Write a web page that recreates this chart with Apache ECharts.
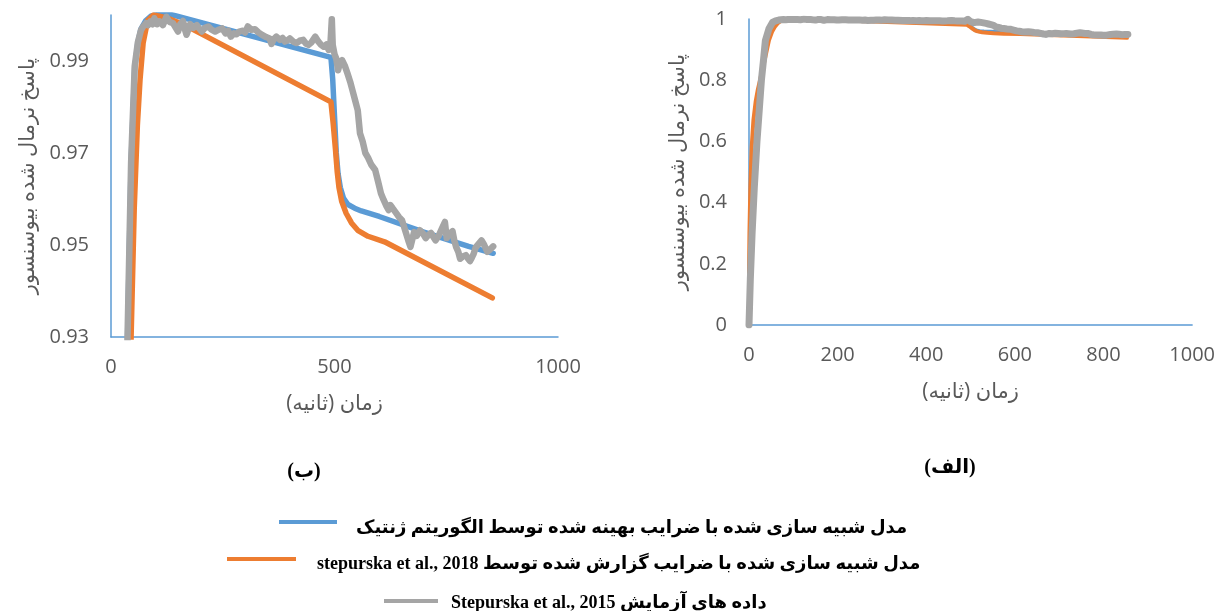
<!DOCTYPE html>
<html>
<head>
<meta charset="utf-8">
<script src="https://cdn.jsdelivr.net/npm/echarts@6/dist/echarts.min.js"></script>
<style>
  html, body { margin: 0; padding: 0; background: #ffffff; }
  #chart { width: 1218px; height: 611px; }
</style>
</head>
<body>
<div id="chart"></div>
<script>
// Wrap right-to-left strings so the canvas lays them out as an RTL run.
const rtl = s => '\u202B' + s + '\u202C';

// ---- data: [time (s), normalised biosensor response] ----
// model with GA-optimised coefficients
const gaModel = [
  [0, 0], [3, 0.12], [7, 0.28], [12, 0.44], [18, 0.6], [24, 0.72], [28, 0.8], [33, 0.87], [37, 0.93],
  [45, 0.968], [53, 0.9885], [60, 0.994], [67, 0.997], [78, 0.9988], [90, 0.9998], [100, 1.0],
  [115, 1.0003], [130, 1.0002], [150, 0.9997], [492, 0.9908], [496, 0.986], [500, 0.978],
  [504, 0.970], [508, 0.9655], [513, 0.9625], [520, 0.9602], [530, 0.9588], [545, 0.958],
  [560, 0.9574], [600, 0.9562], [700, 0.9528], [800, 0.9497], [855, 0.9482]
];

// model with the coefficients reported in stepurska et al., 2018
const reportedModel = [
  [0, 0.17], [1, 0.3], [3, 0.45], [6, 0.58], [10, 0.67], [15, 0.73], [20, 0.77], [28, 0.82],
  [36, 0.87], [45, 0.93], [52, 0.958], [59, 0.976], [65, 0.986], [72, 0.994], [82, 0.9988],
  [95, 1.0], [110, 0.9997], [130, 0.9992], [165, 0.9978], [492, 0.9811], [497, 0.9765],
  [502, 0.971], [506, 0.966], [510, 0.9625], [516, 0.9595], [526, 0.9569], [538, 0.9548],
  [552, 0.9532], [575, 0.9519], [612, 0.9507], [853, 0.9385]
];

// experimental data, Stepurska et al., 2015
const experiment = [
  [0, 0], [3, 0.15], [7, 0.3], [12, 0.45], [18, 0.6], [24, 0.72], [28, 0.8], [33, 0.87], [37, 0.93],
  [45, 0.968], [53, 0.9888], [60, 0.994], [67, 0.9967], [72, 0.9975], [78, 0.9982], [83, 0.9978],
  [88, 0.9986], [93, 0.998], [97, 0.9993], [103, 0.998], [109, 0.9986], [116, 0.9978], [124, 0.9996],
  [131, 0.9985], [139, 0.9982], [145, 0.9972], [150, 0.9964], [155, 0.998], [161, 0.9987],
  [165, 0.997], [169, 0.9957], [173, 0.9968], [177, 0.998], [184, 0.9972], [192, 0.9978],
  [198, 0.997], [203, 0.9964], [210, 0.9972], [218, 0.9975], [225, 0.9968], [233, 0.9964],
  [241, 0.9968], [249, 0.9971], [256, 0.996], [262, 0.9966], [268, 0.9953], [275, 0.996],
  [281, 0.9958], [287, 0.9964], [295, 0.9966], [300, 0.9962], [306, 0.9975], [314, 0.9968],
  [322, 0.9969], [330, 0.9962], [336, 0.9958], [340, 0.9957], [347, 0.9952], [355, 0.9949],
  [359, 0.9937], [364, 0.9947], [370, 0.9953], [378, 0.9946], [384, 0.995], [389, 0.9942],
  [395, 0.9945], [400, 0.9949], [408, 0.9942], [415, 0.9939], [422, 0.9944], [430, 0.9946],
  [436, 0.9938], [442, 0.9935], [448, 0.994], [452, 0.9944], [457, 0.9953], [464, 0.9942],
  [470, 0.9935], [476, 0.9931], [482, 0.9936], [487, 0.9924], [491, 0.9939], [494, 0.9991],
  [496, 0.9935], [500, 0.9915], [504, 0.9905], [508, 0.988], [512, 0.9895], [517, 0.9902],
  [523, 0.989], [529, 0.9873], [535, 0.9855], [540, 0.9837], [546, 0.9815], [552, 0.9793],
  [557, 0.9743], [563, 0.9725], [569, 0.970], [575, 0.969], [582, 0.9675], [591, 0.9663],
  [597, 0.964], [604, 0.9612], [610, 0.9598], [616, 0.9585], [621, 0.9576], [625, 0.9587],
  [630, 0.958], [636, 0.9572], [644, 0.9561], [651, 0.9554], [658, 0.9532], [665, 0.951],
  [670, 0.9496], [678, 0.9528], [684, 0.952], [691, 0.9532], [698, 0.9525], [704, 0.9515],
  [710, 0.9522], [716, 0.9526], [721, 0.9518], [726, 0.951], [733, 0.952], [740, 0.9535],
  [747, 0.955], [751, 0.9515], [758, 0.9525], [764, 0.953], [768, 0.951], [772, 0.9496],
  [777, 0.9485], [781, 0.947], [787, 0.9475], [794, 0.9478], [799, 0.947], [803, 0.9465],
  [807, 0.9472], [811, 0.948], [816, 0.9495], [822, 0.9502], [829, 0.951], [835, 0.95],
  [842, 0.9485], [848, 0.949], [855, 0.9497]
];

// axis ticks
const yTicksZoom = [0.93, 0.95, 0.97, 0.99];
const xIntervalZoom = 500;
const xIntervalFull = 200;
const yIntervalFull = 0.2;

// text
const seriesNames = [
  rtl('مدل شبیه سازی شده با ضرایب بهینه شده توسط الگوریتم ژنتیک'),
  rtl('مدل شبیه سازی شده با ضرایب گزارش شده توسط stepurska et al., 2018'),
  rtl('داده های آزمایش Stepurska et al., 2015')
];
const xTitle = rtl('زمان (ثانیه)');
const yTitle = rtl('پاسخ نرمال شده بیوسنسور');
const panelLabels = [rtl('(ب)'), rtl('(الف)')];

// ---- styling ----
const BLUE = '#5b9bd5', ORANGE = '#ed7d31', GREY = '#a5a5a5';
const AXIS_COLOR = '#5b9bd5';
const LABEL_COLOR = '#595959';
const NUM_FONT = "'Open Sans', sans-serif";
const AR_FONT = "'Open Sans', 'DejaVu Sans', sans-serif";
const LEGEND_FONT = "'Liberation Serif', 'DejaVu Sans', serif";

const plainNumber = v => String(+v.toFixed(4));

function xAxisFor(gridIndex, interval) {
  return {
    type: 'value', gridIndex, min: 0, max: 1000, interval,
    axisLine: { show: true, onZero: false, lineStyle: { color: AXIS_COLOR, width: 1.5 } },
    axisTick: { show: false },
    splitLine: { show: false },
    axisLabel: { color: LABEL_COLOR, fontSize: 20, fontFamily: NUM_FONT, margin: 20, formatter: plainNumber },
    name: xTitle, nameLocation: 'middle', nameGap: 57,
    nameTextStyle: { color: LABEL_COLOR, fontSize: 21, fontFamily: AR_FONT }
  };
}

function yAxisFor(gridIndex, extra, nameGap) {
  return Object.assign({
    type: 'value', gridIndex,
    axisLine: { show: true, onZero: false, lineStyle: { color: AXIS_COLOR, width: 1.5 } },
    axisTick: { show: false },
    splitLine: { show: false },
    name: yTitle, nameLocation: 'middle', nameGap,
    nameTextStyle: { color: LABEL_COLOR, fontSize: 21, fontFamily: AR_FONT }
  }, extra);
}

function lineSeries(i, data, color, width, axisIdx) {
  return {
    type: 'line', name: seriesNames[i], data,
    xAxisIndex: axisIdx, yAxisIndex: axisIdx,
    symbol: 'none', showSymbol: false, clip: true,
    itemStyle: { color },
    lineStyle: { color, width, join: 'round', cap: 'round' },
    z: 2 + i,
    emphasis: { disabled: true }
  };
}

// legend swatch: a 4px bar placed inside a 16px-tall box so it can sit above the text centre
function swatch(width, barTop) {
  return 'path://M0,0M0,' + barTop + 'L' + width + ',' + barTop + 'L' + width + ',' + (barTop + 4) +
    'L0,' + (barTop + 4) + 'ZM0,16';
}

function legendRow(i, left, top, width, gap, barTop) {
  return {
    data: [seriesNames[i]], left, top, padding: 0,
    icon: swatch(width, barTop), itemWidth: width, itemHeight: 16,
    selectedMode: false,
    textStyle: {
      color: '#000', fontSize: 18, fontWeight: 'bold', fontFamily: LEGEND_FONT,
      padding: [0, 0, 0, gap]
    }
  };
}

const option = {
  animation: false,
  backgroundColor: '#ffffff',
  grid: [
    { left: 111, top: 15, width: 447, height: 322 },
    { left: 749, top: 19, width: 445, height: 306 }
  ],
  xAxis: [xAxisFor(0, xIntervalZoom), xAxisFor(1, xIntervalFull)],
  yAxis: [
    yAxisFor(0, {
      min: 0.93, max: 1.0,
      axisLabel: { customValues: yTicksZoom, color: LABEL_COLOR, fontSize: 20, fontFamily: NUM_FONT, margin: 22, formatter: plainNumber }
    }, 72),
    yAxisFor(1, {
      min: 0, max: 1, interval: yIntervalFull,
      axisLabel: { color: LABEL_COLOR, fontSize: 20, fontFamily: NUM_FONT, margin: 22, formatter: plainNumber }
    }, 60)
  ],
  legend: [
    legendRow(0, 279, 519, 58, 14, 0),
    legendRow(1, 227, 555, 69, 16, 1),
    legendRow(2, 384, 594, 54, 8, 4)
  ],
  graphic: [
    { type: 'text', x: 304, y: 472, style: { text: panelLabels[0], align: 'center', verticalAlign: 'middle',
      fontSize: 20, fontWeight: 'bold', fontFamily: LEGEND_FONT, fill: '#000' } },
    { type: 'text', x: 950, y: 468, style: { text: panelLabels[1], align: 'center', verticalAlign: 'middle',
      fontSize: 20, fontWeight: 'bold', fontFamily: LEGEND_FONT, fill: '#000' } }
  ],
  series: [
    lineSeries(0, gaModel, BLUE, 5.5, 0),
    lineSeries(1, reportedModel, ORANGE, 5.5, 0),
    lineSeries(2, experiment, GREY, 6.5, 0),
    lineSeries(0, gaModel, BLUE, 4, 1),
    lineSeries(1, reportedModel, ORANGE, 4, 1),
    lineSeries(2, experiment, GREY, 7, 1)
  ]
};

const chart = echarts.init(document.getElementById('chart'), null, { renderer: 'canvas' });
chart.setOption(option);
</script>
</body>
</html>
